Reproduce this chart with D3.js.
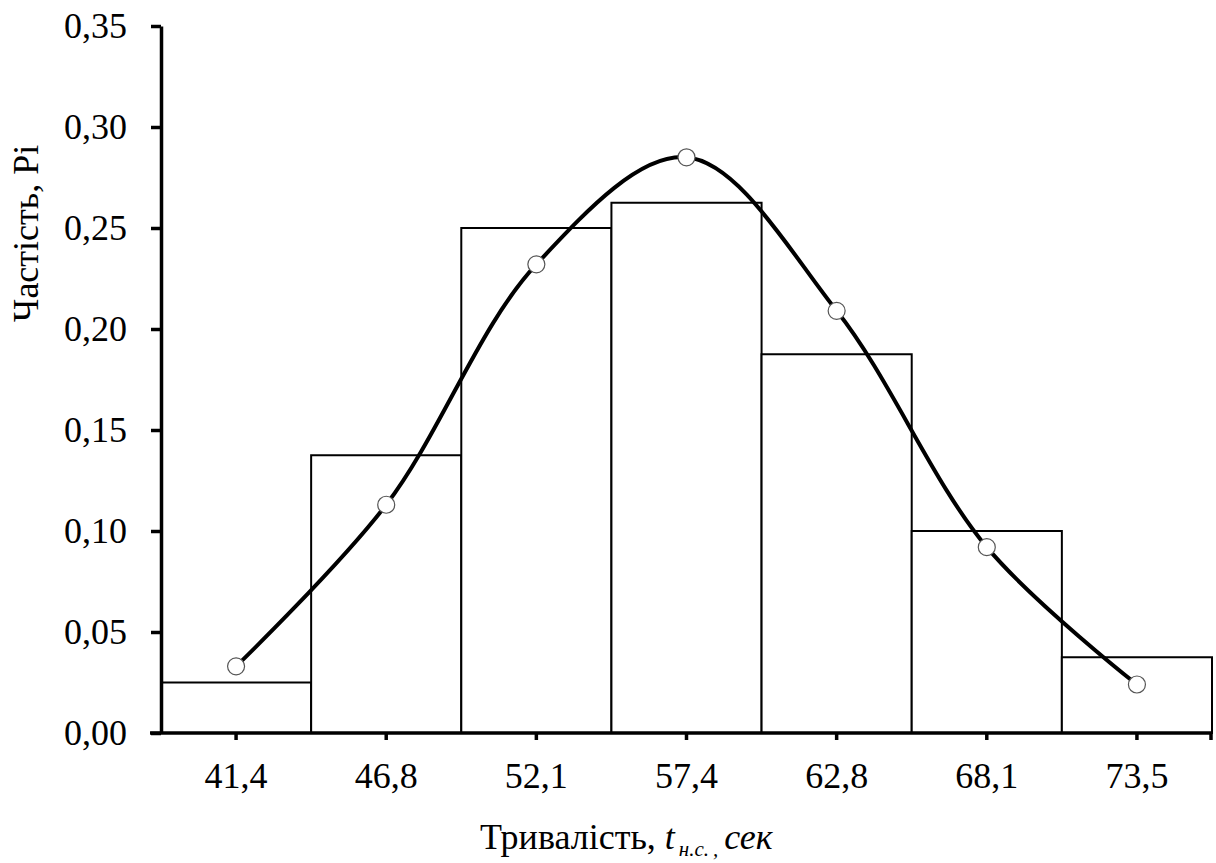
<!DOCTYPE html>
<html><head><meta charset="utf-8">
<script src="https://cdn.jsdelivr.net/npm/d3@7"></script>
</head><body style="margin:0;background:#fff">
<svg id="c" width="1216" height="863"></svg>
<script>
const categories = ["41,4","46,8","52,1","57,4","62,8","68,1","73,5"];
const barValues = [0.025, 0.1375, 0.25, 0.2625, 0.1875, 0.10, 0.0375];
const pointValues = [0.033, 0.113, 0.232, 0.285, 0.209, 0.092, 0.024];
const yTicks = [0,0.05,0.10,0.15,0.20,0.25,0.30,0.35];

const FONT = "Liberation Serif";
const svg = d3.select("#c");
const x = d3.scaleBand().domain(categories).range([161,1212]).padding(0);
const y = d3.scaleLinear().domain([0,0.35]).range([733,26]);
const fmt = d => d3.format(".2f")(d).replace(".", ",");

// bars
svg.append("g").selectAll("rect").data(barValues).join("rect")
  .attr("x",(d,i)=>x(categories[i]))
  .attr("y",d=>y(d))
  .attr("width",x.bandwidth())
  .attr("height",d=>y(0)-y(d))
  .attr("fill","#fff").attr("stroke","#000").attr("stroke-width",2);

// curve
const line = d3.line()
  .x((d,i)=>x(categories[i])+x.bandwidth()/2)
  .y(d=>y(d))
  .curve(d3.curveCatmullRom.alpha(0.5));
svg.append("path").datum(pointValues).attr("d",line)
  .attr("fill","none").attr("stroke","#000").attr("stroke-width",4);

svg.append("g").selectAll("circle").data(pointValues).join("circle")
  .attr("cx",(d,i)=>x(categories[i])+x.bandwidth()/2)
  .attr("cy",d=>y(d)).attr("r",8.5)
  .attr("fill","#fff").attr("stroke","#555").attr("stroke-width",1.2);

// y axis
const ya = svg.append("g").attr("transform","translate(161,0)")
  .call(d3.axisLeft(y).tickValues(yTicks).tickFormat(fmt).tickSize(10).tickSizeOuter(0).tickPadding(24));
ya.attr("font-family", FONT).attr("font-size",36);
ya.select(".domain").attr("stroke","#000").attr("stroke-width",3.5);
ya.selectAll(".tick line").attr("stroke","#000").attr("stroke-width",3.5);
ya.selectAll("text").attr("font-size",36).attr("font-family", FONT).attr("fill","#000");

// x axis
const xa = svg.append("g").attr("transform","translate(0,733)")
  .call(d3.axisBottom(x).tickSize(7).tickSizeOuter(0).tickPadding(22));
xa.attr("font-family", FONT).attr("font-size",36);
xa.select(".domain").remove();
xa.append("line").attr("x1",x.range()[0]-11).attr("x2",x.range()[1])
  .attr("y1",0).attr("y2",0).attr("stroke","#000").attr("stroke-width",3.5);
xa.append("line").attr("x1",x.range()[1]-1).attr("x2",x.range()[1]-1)
  .attr("y1",0).attr("y2",7).attr("stroke","#000").attr("stroke-width",3.5);
xa.selectAll(".tick line").attr("stroke","#000").attr("stroke-width",3.5);
xa.selectAll("text").attr("font-size",36).attr("font-family", FONT).attr("fill","#000");

// titles
const xt = svg.append("text").attr("x",480).attr("y",849).attr("font-size",36).attr("font-family", FONT).attr("fill","#000");
xt.append("tspan").text("Тривалість, ");
xt.append("tspan").attr("font-style","italic").text("t");
xt.append("tspan").attr("font-style","italic").attr("font-size",21).attr("dy",7).attr("dx",4).text("н.с.");
xt.append("tspan").attr("font-style","italic").attr("font-size",21).attr("dx",4).text(",");
xt.append("tspan").attr("font-style","italic").attr("dy",-7).attr("dx",6).text("сек");

svg.append("text").attr("transform","translate(38,322) rotate(-90)")
  .attr("text-anchor","start").attr("font-size",36).attr("font-family", FONT).attr("fill","#000").text("Частість, Pi");
</script></body></html>
